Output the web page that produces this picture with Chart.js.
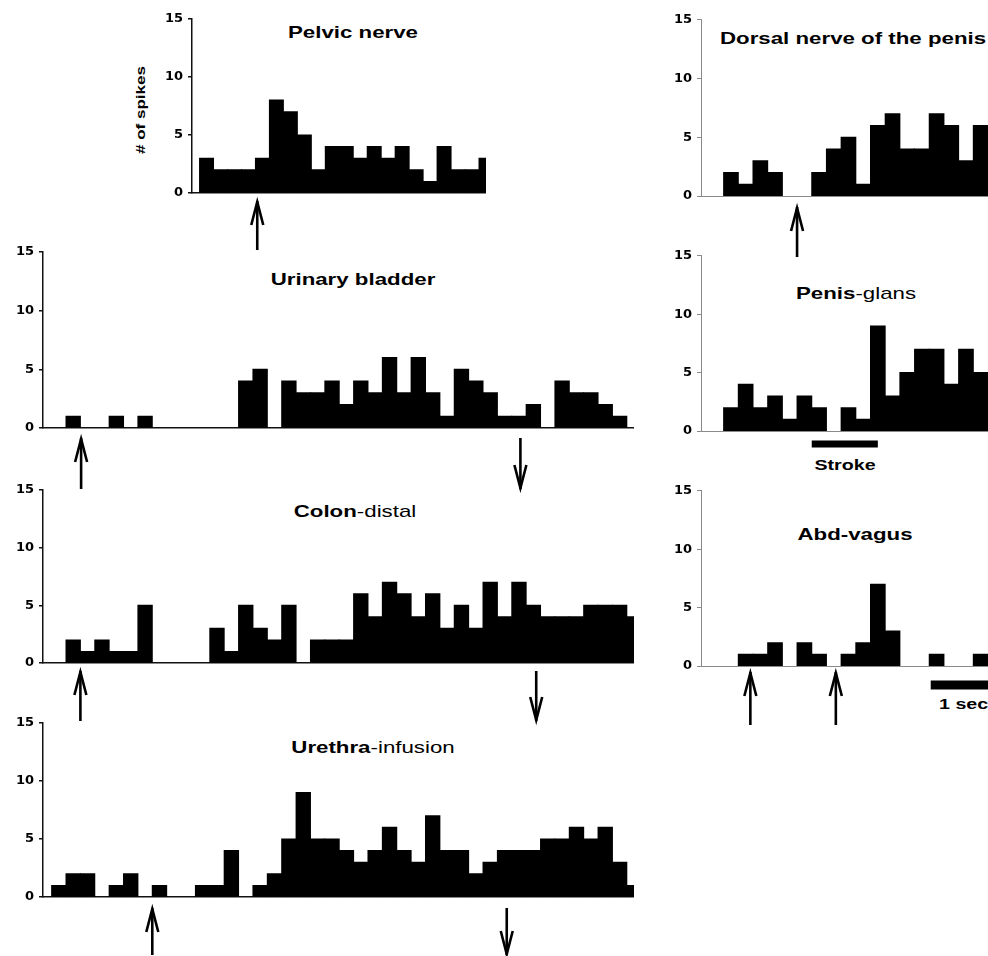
<!DOCTYPE html>
<html>
<head>
<meta charset="utf-8">
<script src="https://cdn.jsdelivr.net/npm/chart.js@4.4.1/dist/chart.umd.min.js"></script>
<style>
  html, body { margin: 0; padding: 0; background: #fff; }
  body { width: 988px; height: 956px; position: relative; overflow: hidden; font-family: 'Liberation Sans', Arial, sans-serif; }
  canvas { position: absolute; }
  .lbl { position: absolute; white-space: nowrap; line-height: 1; color: #000; transform: translate(-50%, -50%) scaleX(1.31); }
  .lft { transform-origin: 0 50%; transform: translate(0, -50%) scaleX(1.31); }
  .b { font-weight: bold; }
  .r { font-weight: normal; }
</style>
</head>
<body>
<div class="lbl b" style="left:353px;top:32px;font-size:17px">Pelvic nerve</div>
<div class="lbl b" style="left:353px;top:279px;font-size:17px">Urinary bladder</div>
<div class="lbl" style="left:355px;top:511px;font-size:17px"><span class="b">Colon</span><span class="r">-distal</span></div>
<div class="lbl" style="left:373px;top:747px;font-size:17px"><span class="b">Urethra</span><span class="r">-infusion</span></div>
<div class="lbl b lft" style="left:720px;top:38px;font-size:17px">Dorsal nerve of the penis</div>
<div class="lbl" style="left:856px;top:293px;font-size:17px"><span class="b">Penis</span><span class="r">-glans</span></div>
<div class="lbl b" style="left:855px;top:534px;font-size:17px">Abd-vagus</div>
<div class="lbl b" style="left:140px;top:110px;font-size:13px;transform:translate(-50%,-50%) rotate(-90deg) scaleX(1.31)"># of spikes</div>
<div class="lbl b" style="left:845px;top:464px;font-size:15px">Stroke</div>
<div class="lbl b lft" style="left:939px;top:703px;font-size:15px">1 sec</div>
<script>
// spike counts per bin
const pelvic  = [3, 2, 2, 2, 3, 8, 7, 5, 2, 4, 4, 3, 4, 3, 4, 2, 1, 4, 2, 2, 3];
const bladder = [0, 1, 0, 0, 1, 0, 1, 0, 0, 0, 0, 0, 0, 4, 5, 0, 4, 3, 3, 4, 2, 4, 3, 6, 3, 6, 3, 1, 5, 4, 3, 1, 1, 2, 0, 4, 3, 3, 2, 1, 0];
const colon   = [0, 2, 1, 2, 1, 1, 5, 0, 0, 0, 0, 3, 1, 5, 3, 2, 5, 0, 2, 2, 2, 6, 4, 7, 6, 4, 6, 3, 5, 3, 7, 4, 7, 5, 4, 4, 4, 5, 5, 5, 4];
const urethra = [1, 2, 2, 0, 1, 2, 0, 1, 0, 0, 1, 1, 4, 0, 1, 2, 5, 9, 5, 5, 4, 3, 4, 6, 4, 3, 7, 4, 4, 2, 3, 4, 4, 4, 5, 5, 6, 5, 6, 3, 1];
const dorsal  = [2, 1, 3, 2, 0, 0, 2, 4, 5, 1, 6, 7, 4, 4, 7, 6, 3, 6];
const glans   = [2, 4, 2, 3, 1, 3, 2, 0, 2, 1, 9, 3, 5, 7, 7, 4, 7, 5];
const vagus   = [0, 1, 1, 2, 0, 2, 1, 0, 1, 2, 7, 3, 0, 0, 1, 0, 0, 1];
const yTicks = [0, 5, 10, 15];

// stimulus arrows, in bin units
const pelvicArrows  = [{at: 3.63, dir: 'up'}];
const bladderArrows = [{at: 1.55, dir: 'up'}, {at: 32.1, dir: 'down'}];
const colonArrows   = [{at: 1.5, dir: 'up'}, {at: 33.2, dir: 'down'}];
const urethraArrows = [{at: 6.5, dir: 'up'}, {at: 31.15, dir: 'down'}];
const dorsalArrows  = [{at: 4.5, dir: 'up'}];
const vagusArrows   = [{at: 1.32, dir: 'up'}, {at: 7.14, dir: 'up'}];
const strokeBar = {from: 5.5, to: 10};
const secBar = {from: 13.6, to: 20};

const FONT = "'DejaVu Sans', sans-serif";

const marks = {
  id: 'marks',
  afterDraw(chart, args, opts) {
    const {ctx, chartArea} = chart;
    const x = chart.scales.x;
    const y0 = chartArea.bottom;
    ctx.save();
    ctx.strokeStyle = '#000';
    ctx.fillStyle = '#000';
    ctx.lineWidth = 2.6;
    ctx.lineJoin = 'miter';
    (opts.arrows || []).forEach(a => {
      const px = x.getPixelForValue(a.at);
      const top = y0 + opts.a1, bot = y0 + opts.a2;
      ctx.beginPath();
      ctx.moveTo(px, top);
      ctx.lineTo(px, bot);
      ctx.stroke();
      ctx.beginPath();
      if (a.dir === 'up') {
        ctx.moveTo(px - 6, top + 24); ctx.lineTo(px, top + 1); ctx.lineTo(px + 6, top + 24);
      } else {
        ctx.moveTo(px - 6, bot - 24); ctx.lineTo(px, bot - 1); ctx.lineTo(px + 6, bot - 24);
      }
      ctx.stroke();
    });
    (opts.bars || []).forEach(b => {
      const xa = x.getPixelForValue(b.from), xb = x.getPixelForValue(b.to);
      ctx.fillRect(xa, y0 + b.y - b.h / 2, xb - xa, b.h);
    });
    ctx.restore();
  }
};

function panel(values, p) {
  const yw = 43;
  const left = p.axisX - yw;
  const cv = document.createElement('canvas');
  cv.width = p.right - left;
  cv.height = (p.y0 - p.y15) + 82;
  cv.style.left = left + 'px';
  cv.style.top = (p.y15 - 12) + 'px';
  document.body.appendChild(cv);
  const axisColor = p.light ? '#8a8a8a' : '#111';
  const axisWidth = p.light ? 1 : 1.5;
  new Chart(cv, {
    type: 'bar',
    data: {
      datasets: [{
        // empty bins have nothing to draw
        data: values.map((v, i) => ({x: i, y: v === 0 ? null : v})),
        backgroundColor: '#000',
        borderWidth: 0,
        inflateAmount: 0.5,
        barPercentage: 1,
        categoryPercentage: 1
      }]
    },
    options: {
      responsive: false,
      animation: false,
      devicePixelRatio: 1,
      layout: {padding: {top: 12, bottom: 70, left: 0, right: 0}},
      plugins: {
        legend: {display: false},
        tooltip: {enabled: false},
        marks: {arrows: p.arrows, bars: p.bars, a1: p.a1, a2: p.a2}
      },
      scales: {
        x: {
          type: 'linear',
          offset: false,
          min: p.min,
          max: p.max,
          grid: {display: false, drawTicks: false},
          ticks: {display: false},
          border: {display: true, color: axisColor, width: axisWidth},
          afterFit: s => { s.height = 0; }
        },
        y: {
          min: 0,
          max: 15,
          afterBuildTicks: s => { s.ticks = yTicks.map(v => ({value: v})); },
          grid: {drawOnChartArea: false, drawTicks: true, tickLength: 4, color: axisColor, lineWidth: axisWidth},
          border: {display: true, color: axisColor, width: axisWidth},
          ticks: {color: '#000', padding: 5, font: {family: FONT, weight: 'bold', size: 13}},
          afterFit: s => { s.width = yw; }
        }
      }
    },
    plugins: [marks]
  });
}

// left column
panel(pelvic,  {axisX: 192, right: 486, y15: 18,  y0: 193, min: -1.04, max: 20, arrows: pelvicArrows, a1: 8, a2: 57});
panel(bladder, {axisX: 43,  right: 634, y15: 251, y0: 428, min: -1.1, max: 40, arrows: bladderArrows, a1: 10, a2: 61});
panel(colon,   {axisX: 43,  right: 634, y15: 489, y0: 663, min: -1.1, max: 40, arrows: colonArrows, a1: 8, a2: 58});
panel(urethra, {axisX: 43,  right: 634, y15: 722, y0: 897, min: -1.1, max: 40, arrows: urethraArrows, a1: 11, a2: 58});
// right column
panel(dorsal, {axisX: 701, right: 988, y15: 19,  y0: 196, min: -2.04, max: 17.5, light: true, arrows: dorsalArrows, a1: 11, a2: 61});
panel(glans,  {axisX: 701, right: 988, y15: 255, y0: 431, min: -2.04, max: 17.5, light: true, bars: [{...strokeBar, y: 13, h: 7}]});
panel(vagus,  {axisX: 701, right: 988, y15: 490, y0: 666, min: -2.04, max: 17.5, light: true, arrows: vagusArrows, a1: 6, a2: 59, bars: [{...secBar, y: 19, h: 9}]});
</script>
</body>
</html>
